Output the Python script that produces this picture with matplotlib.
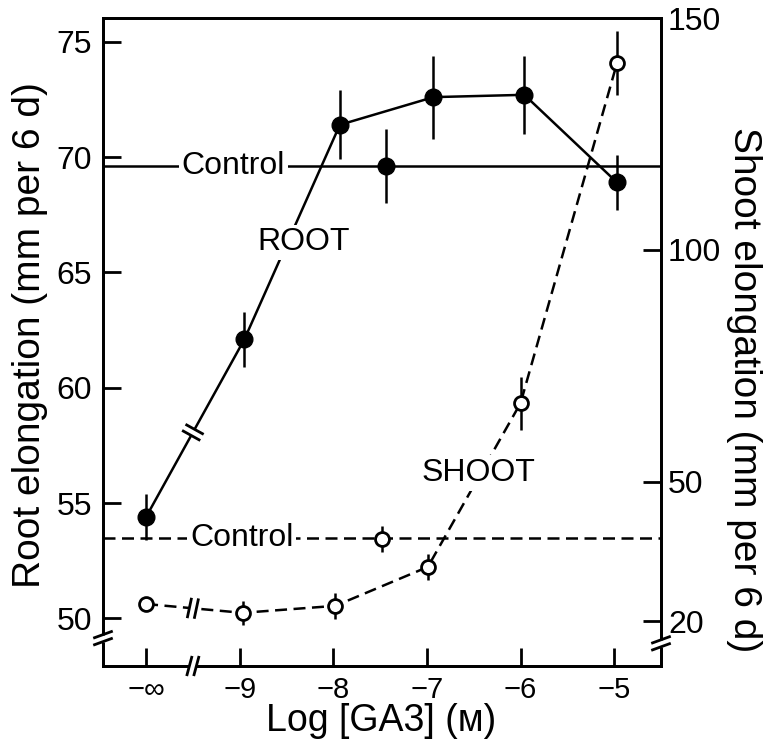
import numpy as np
import matplotlib
matplotlib.use('Agg')
import matplotlib.pyplot as plt
from matplotlib.lines import Line2D
from matplotlib.transforms import IdentityTransform

plt.rcParams['font.family'] = ['Liberation Sans', 'DejaVu Sans']

# x axis (log GA3 concentration, -10 stands for -inf)
tick_pos = [-10, -9, -8, -7, -6, -5]
tick_labels = ['−∞', '−9', '−8', '−7', '−6', '−5']

# root elongation (left axis)
root_x = [-10.0, -8.95, -7.93, -6.93, -5.96, -4.97]
root_y = [54.4, 62.1, 71.4, 72.6, 72.7, 68.9]
root_err = [1.0, 1.2, 1.5, 1.8, 1.7, 1.2]
root_extra_x = [-7.44]
root_extra_y = [69.6]
root_extra_err = [1.6]
root_control = 69.6

# shoot elongation (right axis)
shoot_x = [-10.0, -8.97, -7.98, -6.99, -6.0, -4.97]
shoot_y = [23.7, 21.8, 23.3, 31.7, 67.0, 140.3]
shoot_err = [0.0, 2.6, 2.8, 2.8, 5.7, 7.0]
shoot_extra_x = [-7.48]
shoot_extra_y = [37.7]
shoot_extra_err = [2.8]
shoot_control = 37.9

fig = plt.figure(figsize=(7.67, 7.39), dpi=100)
ax = fig.add_axes([103 / 767, 1 - 666 / 739, 558 / 767, 648 / 739])
ax2 = ax.twinx()

lw = 1.8
dash = (0, (4.8, 2.6))

# root
ax.axhline(root_control, color='black', lw=lw, zorder=1)
ax.plot(root_x, root_y, color='black', lw=lw, zorder=2)
ax.errorbar(root_x, root_y, yerr=root_err, fmt='o', color='black', ms=12,
            elinewidth=lw, capsize=0, zorder=3)
ax.errorbar(root_extra_x, root_extra_y, yerr=root_extra_err, fmt='o', color='black',
            ms=12, elinewidth=lw, capsize=0, zorder=3)

# shoot
ax2.axhline(shoot_control, color='black', lw=lw, ls=dash, zorder=1)
ax2.plot(shoot_x, shoot_y, color='black', lw=lw, ls=dash, zorder=2)
ax2.errorbar(shoot_x, shoot_y, yerr=shoot_err, fmt='o', color='black', mfc='white',
             mew=2, ms=10, elinewidth=lw, capsize=0, zorder=3)
ax2.errorbar(shoot_extra_x, shoot_extra_y, yerr=shoot_extra_err, fmt='o', color='black',
             mfc='white', mew=2, ms=10, elinewidth=lw, capsize=0, zorder=3)

box = dict(fc='white', ec='none', pad=2)
ax.text(-9.07, root_control, 'Control', ha='center', va='center', fontsize=23, bbox=box, zorder=5)
ax.text(-8.32, 66.3, 'ROOT', ha='center', va='center', fontsize=23, bbox=box, zorder=5)
ax2.text(-8.98, shoot_control, 'Control', ha='center', va='center', fontsize=23, bbox=box, zorder=5)
ax2.text(-6.45, 51.9, 'SHOOT', ha='center', va='center', fontsize=23, bbox=box, zorder=5)

ax.set_xlim(-10.46, -4.5)
ax.set_ylim(47.94, 76.03)
ax2.set_ylim(10.34, 150)
ax.set_xticks(tick_pos)
ax.set_xticklabels(tick_labels)
ax.set_yticks([50, 55, 60, 65, 70, 75])
ax2.set_yticks([20, 50, 100, 150])

for a in (ax, ax2):
    for s in a.spines.values():
        s.set_linewidth(2)
ax.tick_params(axis='both', direction='in', length=13, width=2)
ax.tick_params(axis='x', pad=7, labelsize=21)
ax.tick_params(axis='y', pad=8, labelsize=23)
ax2.tick_params(axis='y', direction='in', length=13, width=2, labelsize=23, pad=5)

fig.text(30 / 767, 1 - 335 / 739, 'Root elongation (mm per 6 d)', rotation=90,
         ha='center', va='center', fontsize=28)
fig.text(744 / 767, 1 - 390 / 739, 'Shoot elongation (mm per 6 d)', rotation=270,
         ha='center', va='center', fontsize=28)
fig.text(381 / 767, 1 - 731 / 739, 'Log [GA3] (ᴍ)', ha='center', va='baseline', fontsize=27)


def brk(px, py, along, across, gap=7, L=18):
    a, c = np.deg2rad(along), np.deg2rad(across)
    ux, uy = np.cos(a), np.sin(a)
    vx, vy = np.cos(c), np.sin(c)
    fig.add_artist(Line2D([px - ux * gap / 2, px + ux * gap / 2],
                          [py - uy * gap / 2, py + uy * gap / 2],
                          transform=IdentityTransform(), color='white', lw=5,
                          solid_capstyle='butt', zorder=10))
    for s in (-1, 1):
        cx, cy = px + s * ux * gap / 2, py + s * uy * gap / 2
        fig.add_artist(Line2D([cx - vx * L / 2, cx + vx * L / 2],
                              [cy - vy * L / 2, cy + vy * L / 2],
                              transform=IdentityTransform(), color='black', lw=2,
                              zorder=11))


# axis breaks
px, py = ax.transAxes.transform((0, 0.043))
brk(px, py, 90, 20)
px, py = ax.transAxes.transform((1, 0.035))
brk(px, py, 90, 20)
px, py = ax.transData.transform((-9.5, ax.get_ylim()[0]))
brk(px, py, 0, 75)

# line breaks between -inf and -9
p0 = ax.transData.transform((root_x[0], root_y[0]))
p1 = ax.transData.transform((root_x[1], root_y[1]))
ang = np.degrees(np.arctan2(p1[1] - p0[1], p1[0] - p0[0]))
t = (ax.transData.transform((-9.5, 0))[0] - p0[0]) / (p1[0] - p0[0])
brk(p0[0] + t * (p1[0] - p0[0]), p0[1] + t * (p1[1] - p0[1]), ang, ang - 90)

q0 = ax2.transData.transform((shoot_x[0], shoot_y[0]))
q1 = ax2.transData.transform((shoot_x[1], shoot_y[1]))
ang = np.degrees(np.arctan2(q1[1] - q0[1], q1[0] - q0[0]))
t = (ax2.transData.transform((-9.5, 0))[0] - q0[0]) / (q1[0] - q0[0])
brk(q0[0] + t * (q1[0] - q0[0]), q0[1] + t * (q1[1] - q0[1]), ang, 78)

fig.savefig('out.png', dpi=100)
